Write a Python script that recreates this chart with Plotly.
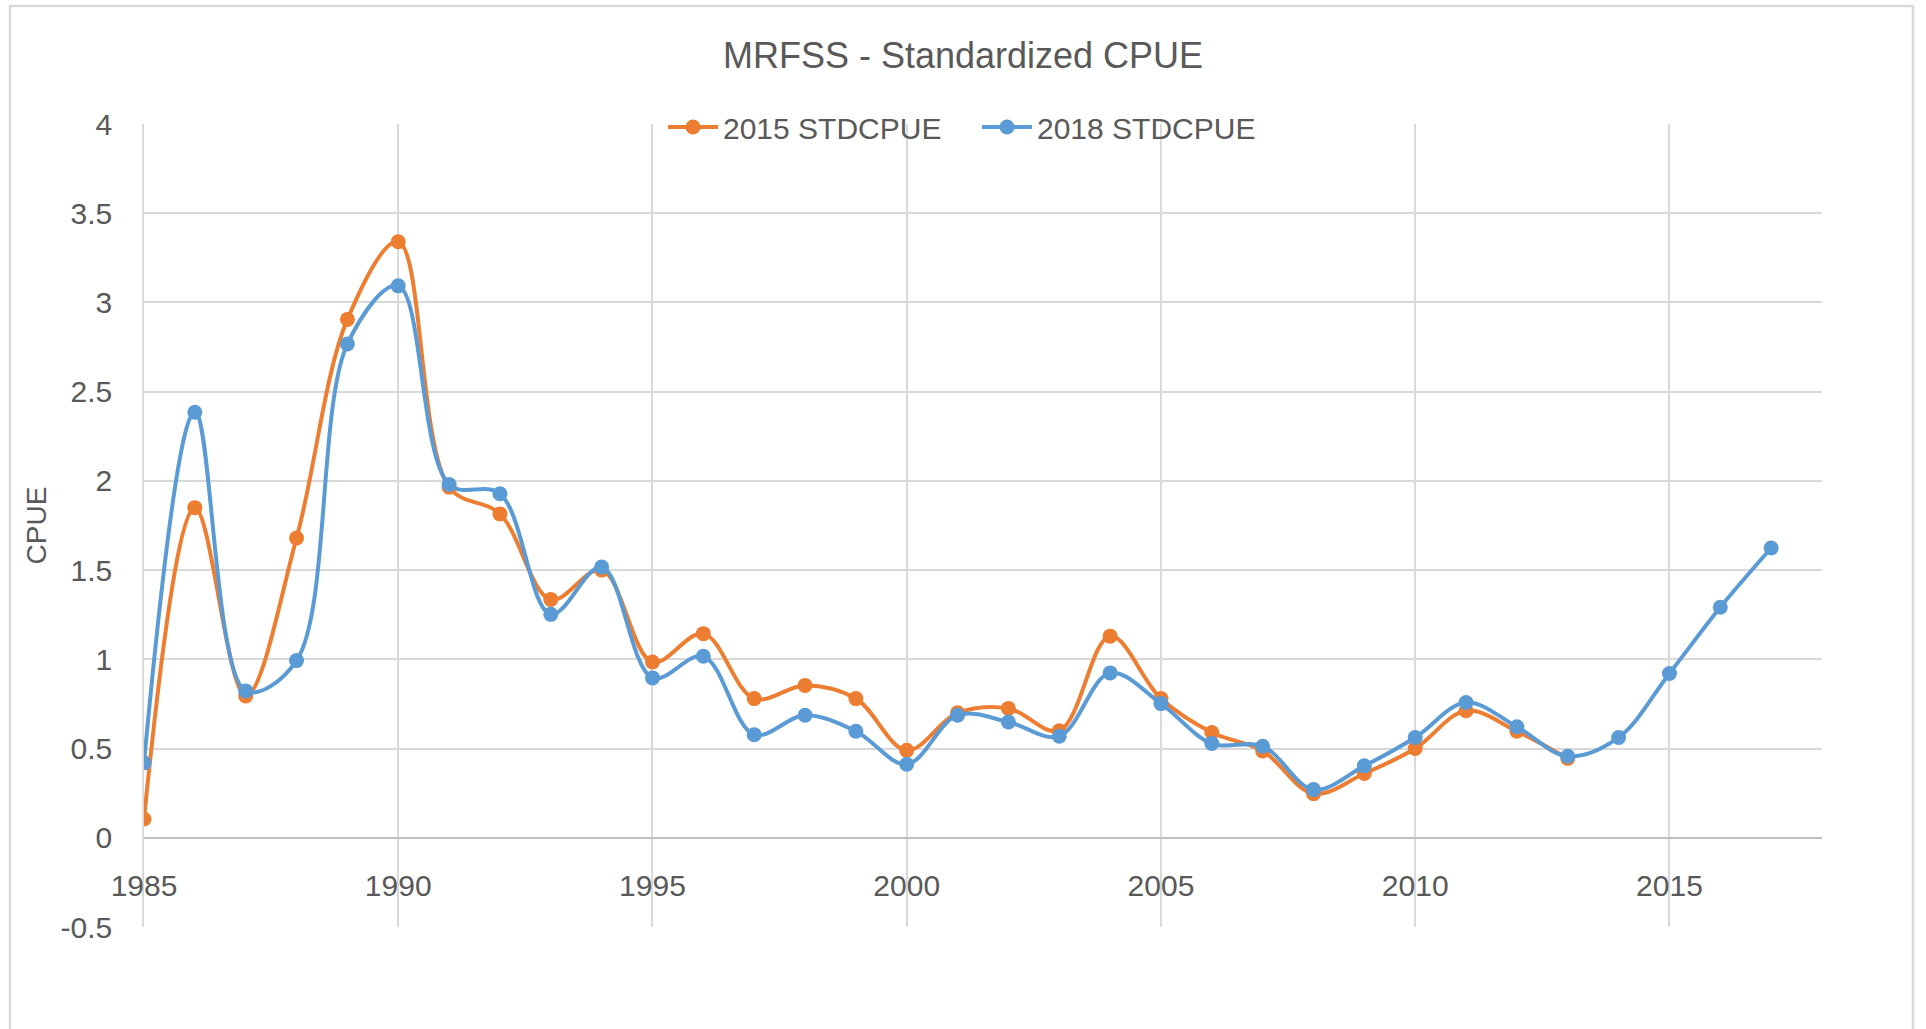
import plotly.graph_objects as go

years_2015 = list(range(1985, 2014))
stdcpue_2015 = [0.105, 1.85, 0.795, 1.68, 2.905, 3.34, 1.965, 1.815, 1.335, 1.50,
                0.985, 1.144, 0.78, 0.854, 0.78, 0.49, 0.70, 0.725, 0.60, 1.13,
                0.78, 0.59, 0.487, 0.247, 0.36, 0.50, 0.712, 0.597, 0.445]

years_2018 = list(range(1985, 2018))
stdcpue_2018 = [0.42, 2.385, 0.823, 0.993, 2.767, 3.093, 1.98, 1.928, 1.252, 1.517,
                0.896, 1.017, 0.578, 0.687, 0.597, 0.412, 0.687, 0.649, 0.569, 0.924,
                0.752, 0.528, 0.513, 0.27, 0.403, 0.562, 0.758, 0.622, 0.457, 0.562,
                0.921, 1.292, 1.624]

series_names = ["2015 STDCPUE", "2018 STDCPUE"]
title_text = "MRFSS - Standardized CPUE"
y_title = "CPUE"
y_ticks = [-0.5, 0, 0.5, 1, 1.5, 2, 2.5, 3, 3.5, 4]
y_ticklabels = ["-0.5", "0", "0.5", "1", "1.5", "2", "2.5", "3", "3.5", "4"]
x_ticks = [1985, 1990, 1995, 2000, 2005, 2010, 2015]

ORANGE = "#ED7D31"
BLUE = "#5B9BD5"
TXT = "#595959"
GRID = "#D9D9D9"
FONT = "Liberation Sans, Arial, sans-serif"

fig = go.Figure()
for name, xs, ys, col in [(series_names[0], years_2015, stdcpue_2015, ORANGE),
                          (series_names[1], years_2018, stdcpue_2018, BLUE)]:
    fig.add_trace(go.Scatter(
        x=xs, y=ys, name=name, mode="lines+markers",
        line=dict(color=col, width=4, shape="spline", smoothing=1.0),
        marker=dict(color=col, size=15),
    ))

W, H = 1926, 1029
L, R, T, B = 144, 104, 124, 102
pw, ph = W - L - R, H - T - B

fig.update_layout(
    width=W, height=H,
    margin=dict(l=L, r=R, t=T, b=B, pad=0, autoexpand=False),
    paper_bgcolor="white", plot_bgcolor="white",
    font=dict(family=FONT, color=TXT, size=30),
    title=dict(text=title_text, x=0.5, xref="container", xanchor="center",
               y=1 - 55 / H, yref="container", yanchor="middle",
               font=dict(family=FONT, size=36, color=TXT)),
    legend=dict(orientation="h", x=(977 - L) / pw, xref="paper", xanchor="center",
                y=(H - B - 127) / ph, yref="paper", yanchor="middle",
                bgcolor="rgba(0,0,0,0)", font=dict(family=FONT, size=30, color=TXT),
                itemwidth=50, entrywidth=249, entrywidthmode="pixels", tracegroupgap=0),
    showlegend=True,
    xaxis=dict(range=[1985, 2018], tickmode="array", tickvals=x_ticks,
               showgrid=True, gridcolor=GRID, gridwidth=1.5,
               zeroline=False, showline=False,
               anchor="free", position=0.5 / 4.5,
               ticks="outside", ticklen=21, tickcolor="rgba(0,0,0,0)",
               tickfont=dict(family=FONT, size=30, color=TXT)),
    yaxis=dict(range=[-0.5, 4], tickmode="array", tickvals=y_ticks, ticktext=y_ticklabels,
               showgrid=True, gridcolor=GRID, gridwidth=1.5,
               zeroline=True, zerolinecolor="#BFBFBF", zerolinewidth=2,
               showline=True, linecolor=GRID, linewidth=1.5,
               ticks="outside", ticklen=24, tickcolor="rgba(0,0,0,0)",
               tickfont=dict(family=FONT, size=30, color=TXT),
               title=dict(text=y_title, standoff=6, font=dict(family=FONT, size=28, color=TXT))),
)

fig.add_shape(type="rect", xref="paper", yref="paper",
              x0=(10 - L) / pw, x1=(1913 - L) / pw,
              y0=(H - B - 1060) / ph, y1=(H - B - 6) / ph,
              line=dict(color=GRID, width=2.5), fillcolor="rgba(0,0,0,0)", layer="below")

fig.write_html("out.html", config={"displayModeBar": False},
               post_script="document.body.style.margin='0';")
